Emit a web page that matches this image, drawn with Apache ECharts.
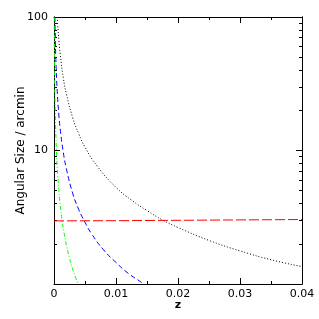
<!DOCTYPE html>
<html>
<head>
<meta charset="utf-8">
<script src="https://cdn.jsdelivr.net/npm/echarts@6/dist/echarts.min.js"></script>
<style>
html,body{margin:0;padding:0;background:#fff;}
#c{width:319px;height:319px;}
</style>
</head>
<body>
<div id="c"></div>
<script>
// ---- data ----
var xTicks = [0, 0.01, 0.02, 0.03, 0.04];
var yMajorTicks = [1, 10, 100];
var yMinorTicks = [2, 3, 4, 5, 6, 7, 8, 9, 20, 30, 40, 50, 60, 70, 80, 90];
var yLabels = ['10', '100'];

var zBlack = [0.00053, 0.0006, 0.0008, 0.001, 0.0015, 0.002, 0.003, 0.004, 0.005, 0.007, 0.01, 0.0125, 0.015, 0.0176, 0.02, 0.025, 0.03, 0.035, 0.04];
var vBlack = [100, 88, 66, 53, 35, 26.5, 17.7, 13.3, 10.6, 7.6, 5.3, 4.25, 3.55, 3.0, 2.65, 2.12, 1.77, 1.52, 1.35];

var zBlue = [0.000145, 0.0002, 0.0003, 0.0005, 0.0008, 0.001, 0.0015, 0.002, 0.003, 0.004, 0.005, 0.006, 0.008, 0.01, 0.012, 0.0141, 0.0145];
var vBlue = [100, 72, 48, 29, 18, 14.5, 9.7, 7.3, 4.8, 3.6, 2.9, 2.4, 1.8, 1.45, 1.2, 1.03, 1.0];

var zGreen = [0.000039, 0.0001, 0.0002, 0.0004, 0.0006, 0.0008, 0.001, 0.0013, 0.0016, 0.002, 0.0025, 0.003, 0.0035, 0.0039];
var vGreen = [100, 39, 19.5, 9.8, 6.5, 4.9, 3.9, 3.0, 2.45, 1.95, 1.56, 1.3, 1.11, 1.0];

var zRed = [0, 0.01, 0.02, 0.03, 0.04];
var vRed = [2.97, 2.98, 3.0, 3.02, 3.04];

function pairs(zs, vs) { return zs.map(function (z, i) { return [z, vs[i]]; }); }

var FONT = 'DejaVu Sans';
var lineC = '#000';

function xAx(pos, showLabel) {
  return {
    type: 'value', position: pos, min: 0, max: 0.04, interval: 0.01,
    name: showLabel ? 'z' : '', nameLocation: 'middle', nameGap: 16, nameMoveOverlap: false,
    nameTextStyle: { fontFamily: FONT, fontSize: 11, color: '#000', fontWeight: 'bold' },
    axisLine: { show: true, onZero: false, lineStyle: { color: lineC, width: 1 } },
    axisTick: { show: true, inside: true, length: 6, lineStyle: { color: lineC } },
    minorTick: { show: true, splitNumber: 2, length: 3, lineStyle: { color: lineC } },
    axisLabel: { show: showLabel, fontFamily: FONT, fontSize: 11, color: '#000', margin: 5,
      formatter: function (v) { return String(v); } },
    splitLine: { show: false }, minorSplitLine: { show: false }
  };
}

function yAx(pos, major, showLabel, withName) {
  return {
    type: 'log', logBase: 10, position: pos, min: 1, max: 100,
    name: withName ? 'Angular Size / arcmin' : '', nameLocation: 'middle', nameGap: 27,
    nameMoveOverlap: false,
    nameTextStyle: { fontFamily: FONT, fontSize: 12, color: '#000' },
    axisLine: { show: true, onZero: false, lineStyle: { color: lineC, width: 1 } },
    axisTick: { show: true, inside: true, length: major ? 6 : 3,
      customValues: major ? yMajorTicks : yMinorTicks, lineStyle: { color: lineC } },
    axisLabel: { show: showLabel, fontFamily: FONT, fontSize: 11, color: '#000', margin: 6,
      customValues: showLabel ? [10, 100] : [],
      formatter: function (v) { return yLabels[Math.round(Math.log10(v)) - 1] || ''; } },
    splitLine: { show: false }
  };
}

var chart = echarts.init(document.getElementById('c'), null, { renderer: 'canvas' });
chart.setOption({
  animation: false,
  backgroundColor: '#fff',
  grid: { left: 54, right: 17, top: 17, bottom: 35, containLabel: false, outerBoundsMode: 'none' },
  xAxis: [xAx('bottom', true), xAx('top', false)],
  yAxis: [yAx('left', true, true, true), yAx('left', false, false, false),
          yAx('right', true, false, false), yAx('right', false, false, false)],
  series: [
    { type: 'line', data: pairs(zBlack, vBlack), showSymbol: false, smooth: true, clip: true,
      lineStyle: { color: '#000', width: 1, type: [1, 2] } },
    { type: 'line', data: pairs(zBlue, vBlue), showSymbol: false, smooth: true, clip: true,
      lineStyle: { color: '#0000ff', width: 1, type: [5, 3] } },
    { type: 'line', data: pairs(zGreen, vGreen), showSymbol: false, smooth: true, clip: true,
      lineStyle: { color: '#00ff00', width: 1, type: [4, 2, 1, 2] } },
    { type: 'line', data: pairs(zRed, vRed), showSymbol: false, clip: true,
      lineStyle: { color: '#ff0000', width: 1, type: [10, 3] } }
  ]
});
</script>
</body>
</html>
